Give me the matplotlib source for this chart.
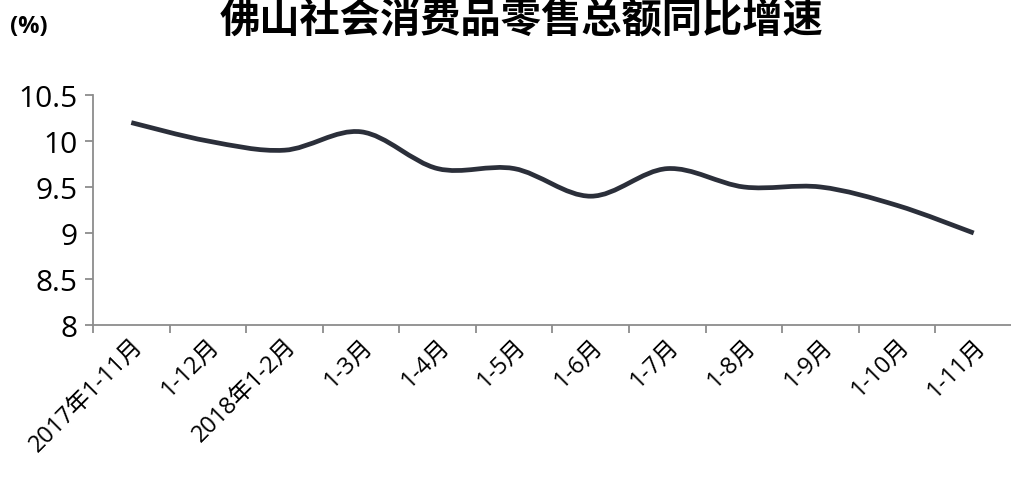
import matplotlib
matplotlib.use("Agg")
import matplotlib.pyplot as plt
from matplotlib.path import Path
from matplotlib.patches import PathPatch
import numpy as np

plt.rcParams['font.family'] = ['Open Sans', 'Noto Sans CJK SC', 'DejaVu Sans']

# data
categories = ['2017年1-11月', '1-12月', '2018年1-2月', '1-3月', '1-4月', '1-5月',
              '1-6月', '1-7月', '1-8月', '1-9月', '1-10月', '1-11月']
growth = [10.2, 10.0, 9.9, 10.1, 9.7, 9.7, 9.4, 9.7, 9.5, 9.5, 9.3, 9.0]
yticks = [8, 8.5, 9, 9.5, 10, 10.5]
ytick_labels = ['8', '8.5', '9', '9.5', '10', '10.5']
title = '佛山社会消费品零售总额同比增速'
unit = '(%)'


def smooth_path(xs, ys):
    # Excel style smoothed line: cubic bezier segments through the points
    pts = np.column_stack([xs, ys])
    verts = [pts[0]]
    codes = [Path.MOVETO]
    n = len(pts)
    for i in range(n - 1):
        p0 = pts[i - 1] if i > 0 else pts[i]
        p1 = pts[i]
        p2 = pts[i + 1]
        p3 = pts[i + 2] if i + 2 < n else pts[i + 1]
        c1 = p1 + (p2 - p0) / 6.0
        c2 = p2 - (p3 - p1) / 6.0
        verts += [c1, c2, p2]
        codes += [Path.CURVE4] * 3
    return Path(verts, codes)


fig = plt.figure(figsize=(10.12, 4.85), dpi=100)
ax = fig.add_axes([93 / 1012, 1 - 326 / 485, 1 - 93 / 1012, 230 / 485])

x = np.arange(len(categories))
path = smooth_path(x, growth)
ax.add_patch(PathPatch(path, facecolor='none', edgecolor='#2b2f3a', lw=3.4,
                       capstyle='butt', joinstyle='round'))

ax.set_xlim(-0.5, len(categories) - 0.5)
ax.set_ylim(8, 10.5)

ax.set_yticks(yticks)
ax.set_yticklabels(ytick_labels, fontsize=21.5)
ax.set_xticks(x)
ax.set_xticklabels(categories, rotation=45, ha='right', va='top',
                   rotation_mode='anchor', fontsize=17)
ax.set_xticks(np.arange(-0.5, len(categories), 1), minor=True)
ax.tick_params(axis='x', which='major', length=0, pad=6)
ax.tick_params(axis='x', which='minor', length=6, width=1.3, color='#8c8c8c')
ax.tick_params(axis='y', length=6, width=1.3, color='#8c8c8c', pad=5)

for side in ['top', 'right']:
    ax.spines[side].set_visible(False)
for side in ['left', 'bottom']:
    ax.spines[side].set_color('#8c8c8c')
    ax.spines[side].set_linewidth(1.3)

fig.text(0.515, 0.999, title, ha='center', va='top', fontsize=29,
         fontweight='black', family=['Noto Sans CJK SC', 'DejaVu Sans'])
fig.text(0.010, 0.945, unit, ha='left', va='center', fontsize=17,
         fontweight='bold')

fig.savefig('out.png', dpi=100)
